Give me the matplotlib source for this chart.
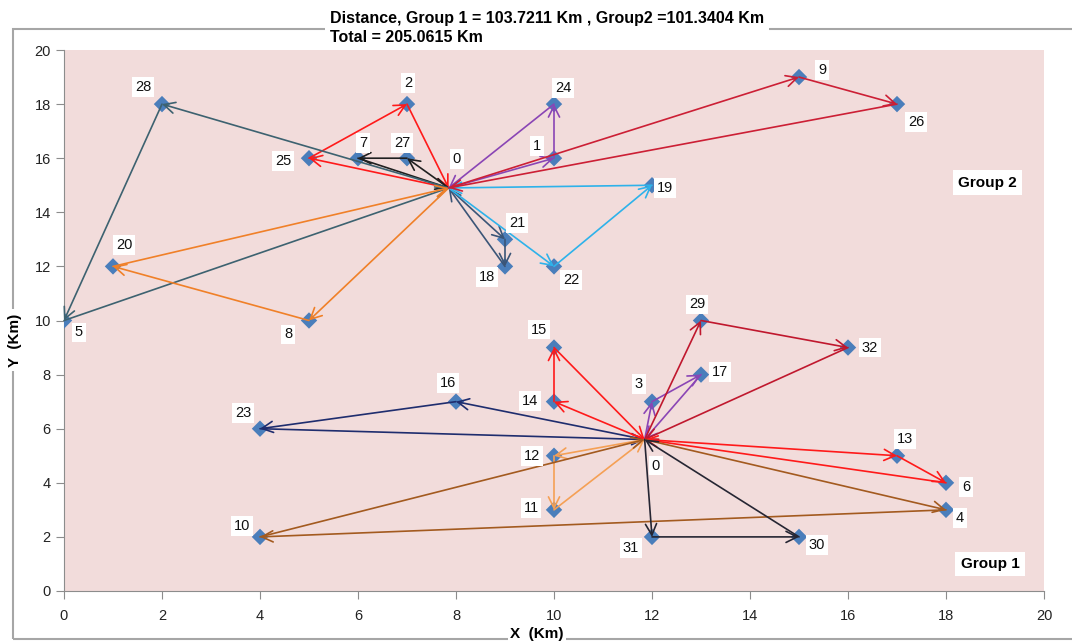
import matplotlib
matplotlib.use('Agg')
from matplotlib import pyplot as plt
from matplotlib.patches import Rectangle

plt.rcParams['font.family'] = ['Liberation Sans', 'DejaVu Sans']

# nodes, group 2 (depot first)
g2_ids = [0, 28, 2, 7, 27, 25, 24, 1, 9, 26, 19, 21, 18, 22, 20, 5, 8]
g2_x = [7.85, 2, 7, 6, 7, 5, 10, 10, 15, 17, 12, 9, 9, 10, 1, 0, 5]
g2_y = [14.9, 18, 18, 16, 16, 16, 18, 16, 19, 18, 15, 13, 12, 12, 12, 10, 10]

# nodes, group 1 (depot first)
g1_ids = [0, 29, 32, 15, 17, 3, 14, 16, 23, 12, 13, 6, 4, 11, 10, 31, 30]
g1_x = [11.85, 13, 16, 10, 13, 12, 10, 8, 4, 10, 17, 18, 18, 10, 4, 12, 15]
g1_y = [5.6, 10, 9, 9, 8, 7, 7, 7, 6, 5, 5, 4, 3, 3, 2, 2, 2]

# routes (node sequences)
g2_routes = [[0, 25, 2, 0], [0, 27, 7, 0], [0, 28, 5, 0], [0, 8, 20, 0],
             [0, 21, 18, 0], [0, 22, 19, 0], [0, 1, 24, 0], [0, 9, 26, 0]]
g1_routes = [[0, 16, 23, 0], [0, 14, 15, 0], [0, 12, 11, 0], [0, 3, 17, 0],
             [0, 29, 32, 0], [0, 13, 6, 0], [0, 4, 10, 0], [0, 31, 30, 0]]

g2_colors = ['#ff1a1a', '#202020', '#3d6270', '#f08028',
             '#3b5577', '#2eb2ea', '#8a45b5', '#cc1f35']
g1_colors = ['#1f2d6e', '#ff1a1a', '#f5a055', '#8a45b5',
             '#c0182e', '#ff1a1a', '#a35a1f', '#262633']

# label offsets (pixels)
g2_off = {0: (8, 29), 28: (-19, 17), 2: (1, 21), 7: (5, 15), 27: (-5, 15),
          25: (-26, -3), 24: (9, 16), 1: (-17, 12), 9: (23, 7), 26: (19, -18),
          19: (13, -3), 21: (12, 16), 18: (-18, -11), 22: (17, -14),
          20: (11, 21), 5: (15, -12), 8: (-21, -14)}
g1_off = {0: (11, -26), 29: (-4, 16), 32: (22, 0), 15: (-15, 18), 17: (19, 3),
          3: (-13, 18), 14: (-24, 1), 16: (-8, 19), 23: (-17, 16),
          12: (-22, 0), 13: (8, 17), 6: (20, -4), 4: (14, -8), 11: (-23, 2),
          10: (-18, 11), 31: (-21, -11), 30: (18, -8)}

fig = plt.figure(figsize=(10.72, 6.42), dpi=100)
ax = fig.add_axes([64/1072, 51/642, 980/1072, 541/642])
ax.set_facecolor('#f2dcdb')
ax.set_xlim(0, 20)
ax.set_ylim(0, 20)
ax.set_xticks(range(0, 21, 2))
ax.set_yticks(range(0, 21, 2))
for s in ['top', 'right']:
    ax.spines[s].set_visible(False)
for s in ['left', 'bottom']:
    ax.spines[s].set_color('#8c8c8c')
ax.tick_params(colors='#8c8c8c', labelcolor='#222222', labelsize=10.5,
               length=6, direction='out')
ax.tick_params(axis='x', pad=7)

# outer frame
fig.patches.append(Rectangle((13/1072, 3/642), 1.1, 610/642,
                             transform=fig.transFigure, fill=False,
                             edgecolor='#a6a6a6', lw=1.5, zorder=0))

def draw_group(ids, xs, ys, routes, colors, offs):
    pos = {n: (x, y) for n, x, y in zip(ids, xs, ys)}
    ax.scatter(xs[1:], ys[1:], marker='D', s=70, color='#4a7ebb',
               edgecolors='none', zorder=3)
    for r, c in zip(routes, colors):
        for a, b in zip(r[:-1], r[1:]):
            ax.annotate('', xy=pos[b], xytext=pos[a],
                        arrowprops=dict(arrowstyle='->,head_length=0.8,head_width=0.4',
                                        color=c, lw=1.2, shrinkA=0, shrinkB=0),
                        zorder=4)
    for n in ids:
        ax.annotate(str(n), xy=pos[n], xytext=offs[n], textcoords='offset pixels',
                    ha='center', va='center', fontsize=10.5, color='#111111',
                    bbox=dict(boxstyle='square,pad=0.2', fc='white', ec='none'),
                    zorder=5)

draw_group(g2_ids, g2_x, g2_y, g2_routes, g2_colors, g2_off)
draw_group(g1_ids, g1_x, g1_y, g1_routes, g1_colors, g1_off)

ax.text(18.85, 15.1, 'Group 2', fontsize=11, fontweight='bold', ha='center',
        va='center', bbox=dict(boxstyle='square,pad=0.35', fc='white', ec='none'))
ax.text(18.9, 1.0, 'Group 1', fontsize=11, fontweight='bold', ha='center',
        va='center', bbox=dict(boxstyle='square,pad=0.35', fc='white', ec='none'))

fig.text(330/1072, 1 - 28/642,
         'Distance, Group 1 = 103.7211 Km , Group2 =101.3404 Km\nTotal = 205.0615 Km',
         fontweight='bold', fontsize=11.5, ha='left', va='center', linespacing=1.3,
         bbox=dict(boxstyle='square,pad=0.3', fc='white', ec='none'))
fig.text(537/1072, 1 - 634/642, 'X  (Km)', fontweight='bold', fontsize=11,
         ha='center', va='center',
         bbox=dict(boxstyle='square,pad=0.15', fc='white', ec='none'))
fig.text(15/1072, 1 - 340/642, 'Y  (Km)', fontweight='bold', fontsize=11,
         ha='center', va='center', rotation=90,
         bbox=dict(boxstyle='square,pad=0.3', fc='white', ec='none'))

plt.savefig('out.png', dpi=100)
